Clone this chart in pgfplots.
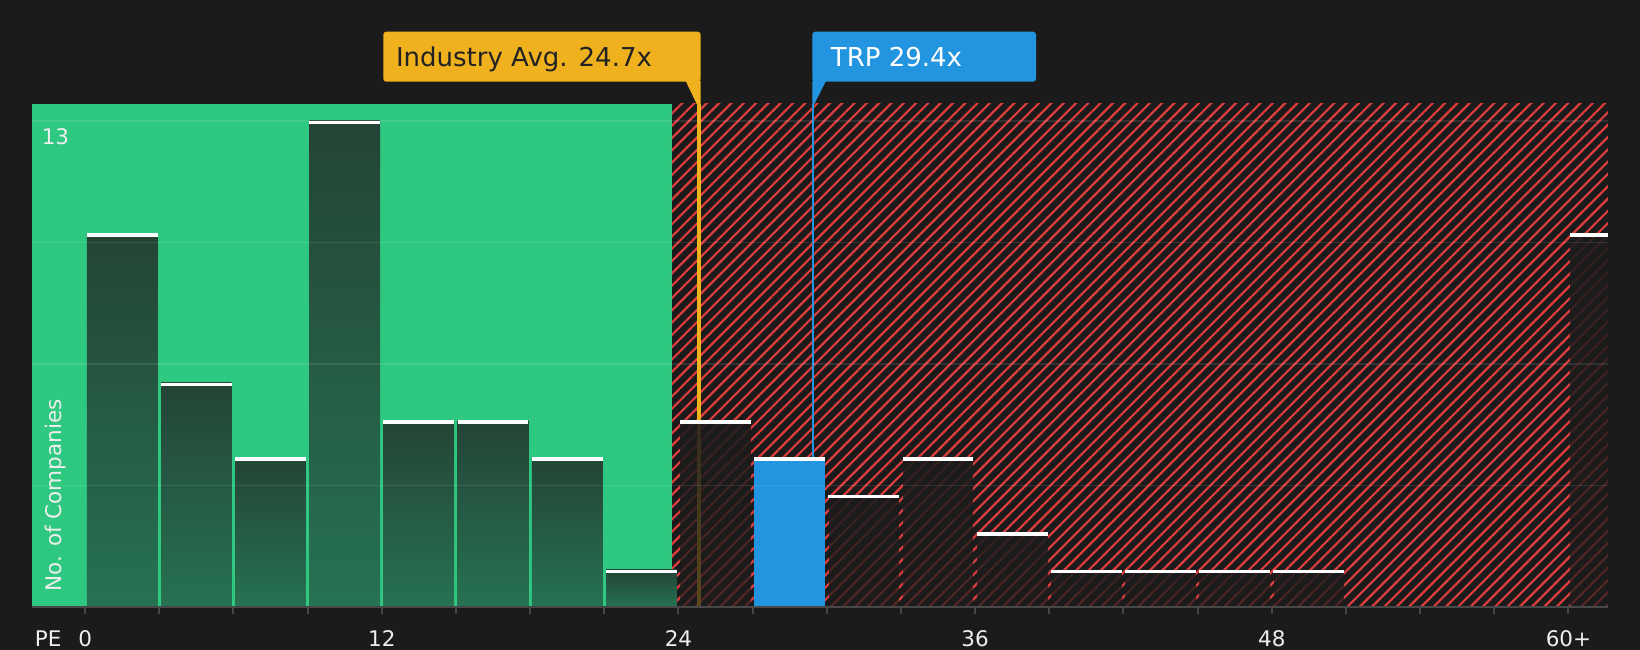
\documentclass[border=0pt]{standalone}
\usepackage{fontspec}
\setmainfont{DejaVu Sans}
\usepackage{pgfplots}
\pgfplotsset{compat=1.18}
\usetikzlibrary{patterns.meta,fadings}
\definecolor{bg}{RGB}{27,27,27}
\definecolor{zgreen}{RGB}{46,200,128}
\definecolor{hatchred}{RGB}{222,62,62}
\definecolor{barTop}{RGB}{36,68,54}
\definecolor{barBot}{RGB}{38,114,82}
\definecolor{barDark}{RGB}{28,28,28}
\definecolor{avgY}{RGB}{239,178,30}
\definecolor{trpB}{RGB}{35,148,224}
\definecolor{axgray}{RGB}{72,72,72}
\definecolor{txt}{RGB}{238,238,238}
\definecolor{darktxt}{RGB}{34,34,34}
\tikzfading[name=barfade, top color=transparent!10, bottom color=transparent!30]
\begin{document}
\begin{tikzpicture}[x=1pt,y=1pt]
\fill[bg] (0,0) rectangle (1640,650);
\path[use as bounding box] (0,0) rectangle (1640,650);
\begin{axis}[
  at={(32pt,43pt)}, anchor=south west,
  scale only axis, width=1575.7pt, height=503pt,
  xmin=-2.148, xmax=61.59, ymin=0, ymax=13.45,
  axis on top, clip marker paths=true,
  axis x line*=bottom, axis y line*=left,
  x axis line style={draw=axgray, line width=2.5pt},
  y axis line style={draw=none},
  xtick={0,3,...,60},
  xticklabels={0,,,,12,,,,24,,,,36,,,,48,,,,60+},
  ytick={3.25,6.5,9.75,13}, yticklabels={},
  ytick style={draw=none},
  xtick style={draw=axgray, line width=2pt},
  tick align=outside, major tick length=7pt,
  ymajorgrids, major grid style={draw=white, draw opacity=0.1, line width=1.5pt},
  xticklabel style={font=\fontsize{21.5}{22}\selectfont, text=txt, anchor=base, yshift=-33pt},
  /pgf/number format/assume math mode=true,
]
% zones
\addplot[draw=none, fill=zgreen] coordinates {(-2.148,13.45) (23.73,13.45)} \closedcycle;
\addplot[draw=none, pattern={Lines[angle=45,distance=8.7pt,line width=2.2pt]}, pattern color=hatchred] coordinates {(23.73,13.45) (61.59,13.45)} \closedcycle;
% reference lines
\addplot[avgY, line width=4pt, xshift=3pt] coordinates {(24.7,0) (24.7,13.45)};
\addplot[trpB, line width=2pt, xshift=1.4pt] coordinates {(29.4,0) (29.4,13.45)};
% bars below industry average zone
\addplot[ybar, bar width=2.86, bar shift=0pt, draw=none, top color=barTop, bottom color=barBot] coordinates {(1.5,10)};
\addplot[ybar, bar width=2.86, bar shift=0pt, draw=none, top color=barTop, bottom color=barBot] coordinates {(4.5,6)};
\addplot[ybar, bar width=2.86, bar shift=0pt, draw=none, top color=barTop, bottom color=barBot] coordinates {(7.5,4)};
\addplot[ybar, bar width=2.86, bar shift=0pt, draw=none, top color=barTop, bottom color=barBot] coordinates {(10.5,13)};
\addplot[ybar, bar width=2.86, bar shift=0pt, draw=none, top color=barTop, bottom color=barBot] coordinates {(13.5,5)};
\addplot[ybar, bar width=2.86, bar shift=0pt, draw=none, top color=barTop, bottom color=barBot] coordinates {(16.5,5)};
\addplot[ybar, bar width=2.86, bar shift=0pt, draw=none, top color=barTop, bottom color=barBot] coordinates {(19.5,4)};
\addplot[ybar, bar width=2.86, bar shift=0pt, draw=none, top color=barTop, bottom color=barBot] coordinates {(22.5,1)};
% bars above
\addplot[ybar, bar width=2.86, bar shift=0pt, draw=none, fill=barDark, path fading=barfade] coordinates {(25.5,5)};
\addplot[ybar, bar width=2.86, bar shift=0pt, draw=none, fill=trpB] coordinates {(28.5,4)};
\addplot[ybar, bar width=2.86, bar shift=0pt, draw=none, fill=barDark, path fading=barfade] coordinates {(31.5,3)};
\addplot[ybar, bar width=2.86, bar shift=0pt, draw=none, fill=barDark, path fading=barfade] coordinates {(34.5,4)};
\addplot[ybar, bar width=2.86, bar shift=0pt, draw=none, fill=barDark, path fading=barfade] coordinates {(37.5,2)};
\addplot[ybar, bar width=2.86, bar shift=0pt, draw=none, fill=barDark, path fading=barfade] coordinates {(40.5,1)};
\addplot[ybar, bar width=2.86, bar shift=0pt, draw=none, fill=barDark, path fading=barfade] coordinates {(43.5,1)};
\addplot[ybar, bar width=2.86, bar shift=0pt, draw=none, fill=barDark, path fading=barfade] coordinates {(46.5,1)};
\addplot[ybar, bar width=2.86, bar shift=0pt, draw=none, fill=barDark, path fading=barfade] coordinates {(49.5,1)};
\addplot[ybar, bar width=2.86, bar shift=0pt, draw=none, fill=barDark, path fading=barfade] coordinates {(61.5,10)};
% white bar tops
\addplot[only marks, mark=-, mark size=35.4pt, mark options={draw=white, line width=3.5pt, yshift=-1.75pt}] coordinates {
(1.5,10) (4.5,6) (7.5,4) (10.5,13) (13.5,5) (16.5,5) (19.5,4) (22.5,1)
(25.5,5) (28.5,4) (31.5,3) (34.5,4) (37.5,2) (40.5,1) (43.5,1) (46.5,1) (49.5,1) (61.5,10)};
\end{axis}
% annotations
\node[anchor=base west, inner sep=0, text=txt, font=\fontsize{21.5}{22}\selectfont] at (41.6,505) {13};
\node[anchor=base west, inner sep=0, rotate=90, text=txt, font=\fontsize{21.5}{22}\selectfont] at (61.7,58) {No. of Companies};
\node[anchor=base west, inner sep=0, text=txt, font=\fontsize{21.5}{22}\selectfont] at (34.6,3) {PE};
% industry label
\fill[avgY, rounded corners=3pt] (383.3,568.3) rectangle (700.7,618.3);
\fill[avgY] (685.7,569) -- (700.7,569) -- (700.7,546) -- (696.7,546) -- cycle;
\node[anchor=base west, inner sep=0, text=darktxt, font=\fontsize{26}{28}\selectfont] at (395.8,583.3) {Industry Avg. 24.7x};
% TRP label
\fill[trpB, rounded corners=3pt] (812.3,568.3) rectangle (1036,618.3);
\fill[trpB] (812.3,569) -- (826,569) -- (814.3,546) -- (812.3,546) -- cycle;
\node[anchor=base west, inner sep=0, text=white, font=\fontsize{26}{28}\selectfont] at (830.7,583.3) {TRP 29.4x};
\end{tikzpicture}
\end{document}
